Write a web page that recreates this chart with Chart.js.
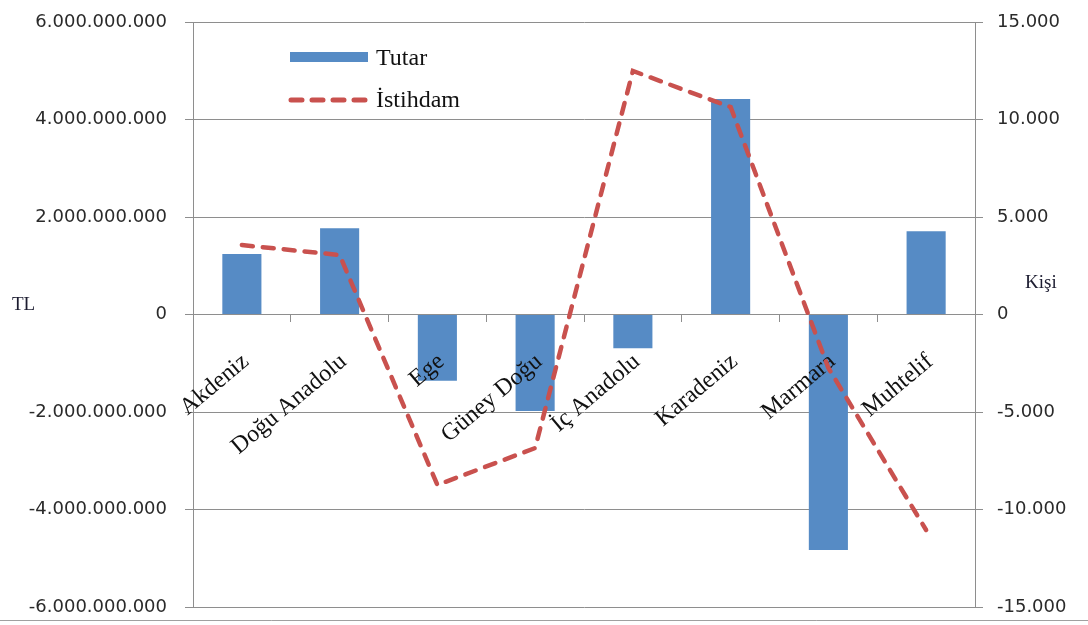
<!DOCTYPE html>
<html>
<head>
<meta charset="utf-8">
<script src="https://cdn.jsdelivr.net/npm/chart.js@4.4.1/dist/chart.umd.min.js"></script>
<style>
  body { margin: 0; background: #fff; }
  #wrap { width: 1088px; height: 625px; position: relative; }
</style>
</head>
<body>
<div id="wrap"><canvas id="myChart"></canvas></div>
<script>
const bolgeler = ['Akdeniz', 'Doğu Anadolu', 'Ege', 'Güney Doğu', 'İç Anadolu', 'Karadeniz', 'Marmara', 'Muhtelif'];
const tutar = [1240000000, 1770000000, -1360000000, -1980000000, -690000000, 4420000000, -4830000000, 1710000000];
const istihdam = [3560, 3050, -8740, -6850, 12490, 10640, -2740, -11050];
const tlTicks = [-6000000000, -4000000000, -2000000000, 0, 2000000000, 4000000000, 6000000000];
const kisiTicks = [-15000, -10000, -5000, 0, 5000, 10000, 15000];

function noktali(v) {
  let s = String(Math.abs(v)).replace(/\B(?=(\d{3})+(?!\d))/g, '.');
  return v < 0 ? '-' + s : s;
}

const gri = '#8e8e8e';
const serif = '"Liberation Serif", "Times New Roman", serif';
const sans = '"DejaVu Sans", Verdana, sans-serif';

// category labels: drawn after the bars but before the line, like the original
const kategoriYazilari = {
  id: 'kategoriYazilari',
  afterDatasetDraw(chart, args) {
    if (args.index !== 0) return;
    const c = chart.ctx;
    const xs = chart.scales.x;
    const sifir = chart.scales.y.getPixelForValue(0);
    c.save();
    c.font = '24px ' + serif;
    c.fillStyle = '#111';
    c.textAlign = 'right';
    c.textBaseline = 'alphabetic';
    chart.data.labels.forEach((lbl, i) => {
      c.save();
      c.translate(xs.getPixelForValue(i) + 8, sifir + 49);
      c.rotate(-40 * Math.PI / 180);
      c.fillText(lbl, 0, 0);
      c.restore();
    });
    c.restore();
  }
};

// legend inside the plot + the two axis titles + bottom frame line
const ekstra = {
  id: 'ekstra',
  afterDraw(chart) {
    const c = chart.ctx;
    const a = chart.chartArea;
    const ds = chart.data.datasets;
    c.save();
    c.font = '24px ' + serif;
    c.textBaseline = 'middle';

    c.fillStyle = ds[0].backgroundColor;
    c.fillRect(a.left + 97, 52, 78, 10);
    c.fillStyle = '#111';
    c.fillText(ds[0].label, a.left + 183, 59);

    c.strokeStyle = ds[1].borderColor;
    c.lineWidth = 5;
    c.lineCap = 'round';
    c.setLineDash(ds[1].borderDash);
    c.beginPath();
    c.moveTo(a.left + 98, 100);
    c.lineTo(a.left + 176, 100);
    c.stroke();
    c.setLineDash([]);
    c.fillText(ds[1].label, a.left + 183, 101);

    c.font = '19px ' + serif;
    c.fillStyle = '#1c1c30';
    c.fillText('TL', 12, 305);
    c.fillText('Kişi', 1025, 283);

    c.strokeStyle = '#a0a0a0';
    c.lineWidth = 1;
    c.beginPath();
    c.moveTo(0, 620.5);
    c.lineTo(chart.width, 620.5);
    c.stroke();
    c.restore();
  }
};

function sabitGenislik(w) {
  return (s) => {
    s.width = w;
    s.paddingTop = 0;
    s.paddingBottom = 0;
  };
}

const ctx = document.getElementById('myChart');
const myChart = new Chart(ctx, {
  type: 'bar',
  data: {
    labels: bolgeler,
    datasets: [{
      type: 'bar',
      label: 'Tutar',
      data: tutar,
      yAxisID: 'y',
      backgroundColor: '#568BC5',
      categoryPercentage: 1,
      barPercentage: 0.4,
      order: 2
    }, {
      type: 'line',
      label: 'İstihdam',
      data: istihdam,
      yAxisID: 'y1',
      borderColor: '#C9514E',
      borderWidth: 4.5,
      borderDash: [11, 10],
      borderCapStyle: 'round',
      pointRadius: 0,
      tension: 0,
      fill: false,
      order: 1
    }]
  },
  options: {
    responsive: true,
    maintainAspectRatio: false,
    animation: false,
    layout: { padding: { top: 22, bottom: 18, left: 0, right: 0 } },
    plugins: {
      legend: { display: false },
      tooltip: { enabled: false }
    },
    scales: {
      x: {
        position: { y: 0 },
        grid: { drawOnChartArea: false, color: gri, tickLength: 7, offset: true },
        border: { color: gri },
        ticks: { display: false }
      },
      y: {
        position: 'left',
        min: -6000000000,
        max: 6000000000,
        afterBuildTicks: (s) => { s.ticks = tlTicks.map(v => ({ value: v })); },
        afterFit: sabitGenislik(193),
        grid: { color: gri, tickLength: 8 },
        border: { color: gri },
        ticks: {
          padding: 18,
          color: '#2a2a2a',
          font: { family: sans, size: 18 },
          callback: (v) => noktali(v)
        }
      },
      y1: {
        position: 'right',
        min: -15000,
        max: 15000,
        afterBuildTicks: (s) => { s.ticks = kisiTicks.map(v => ({ value: v })); },
        afterFit: sabitGenislik(113),
        grid: { drawOnChartArea: false, color: gri, tickLength: 8 },
        border: { color: gri },
        ticks: {
          padding: 14,
          color: '#2a2a2a',
          font: { family: sans, size: 18 },
          callback: (v) => noktali(v)
        }
      }
    }
  },
  plugins: [kategoriYazilari, ekstra]
});
</script>
</body>
</html>
